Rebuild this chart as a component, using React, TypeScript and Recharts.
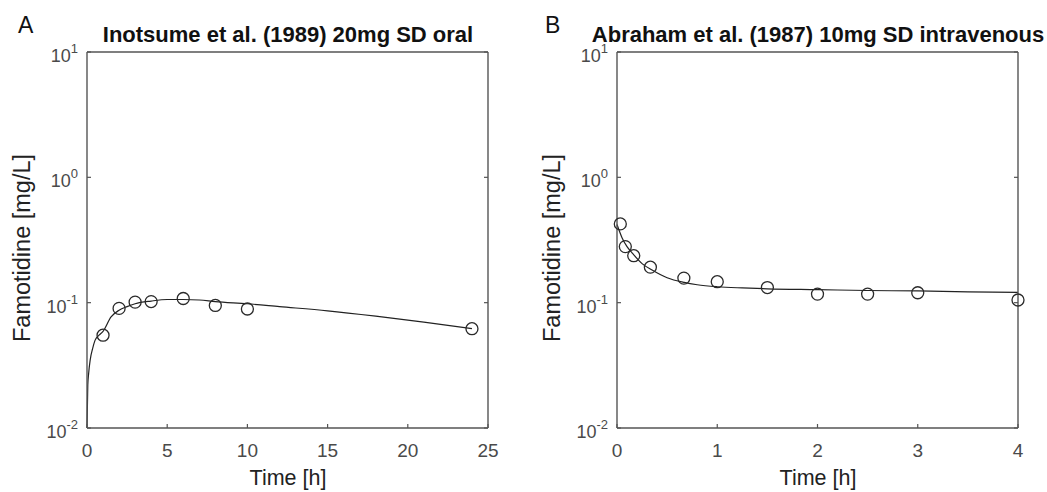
import React from "react";
import { ComposedChart, Line, Scatter, XAxis, YAxis } from "recharts";

// Inotsume et al. (1989) 20mg SD oral
const ORAL_OBS_T = [1, 2, 3, 4, 6, 8, 10, 24];
const ORAL_OBS_C = [0.055, 0.09, 0.101, 0.102, 0.108, 0.095, 0.089, 0.062];
const ORAL_SIM_T = [0, 0.05, 0.1, 0.2, 0.35, 0.5, 0.75, 1, 1.5, 2, 2.5, 3, 4, 5, 6, 7, 8, 10, 12, 15, 18, 21, 24];
const ORAL_SIM_C = [0.01, 0.022, 0.027, 0.035, 0.043, 0.05, 0.055, 0.059, 0.077, 0.087, 0.093, 0.098, 0.103, 0.106, 0.106, 0.105, 0.102, 0.098, 0.093, 0.086, 0.078, 0.07, 0.062];

// Abraham et al. (1987) 10mg SD intravenous
const IV_OBS_T = [0.033, 0.083, 0.167, 0.333, 0.667, 1, 1.5, 2, 2.5, 3, 4];
const IV_OBS_C = [0.425, 0.28, 0.237, 0.192, 0.157, 0.147, 0.132, 0.117, 0.117, 0.12, 0.105];
const IV_SIM_T = [0, 0.05, 0.1, 0.15, 0.25, 0.35, 0.5, 0.67, 0.8, 1, 1.25, 1.5, 2, 2.5, 3, 3.5, 4];
const IV_SIM_C = [0.42, 0.33, 0.28, 0.25, 0.205, 0.182, 0.158, 0.145, 0.139, 0.134, 0.131, 0.129, 0.127, 0.125, 0.124, 0.122, 0.121];

const Y_TICKS = [0.01, 0.1, 1, 10];
const Y_EXP = ["-2", "-1", "0", "1"];
const ORAL_X_TICKS = [0, 5, 10, 15, 20, 25];
const IV_X_TICKS = [0, 1, 2, 3, 4];

const zip = (t: number[], c: number[]) => t.map((v, i) => ({ t: v, c: c[i] }));

const AXIS = "#555";
const TICK_TXT = "#4a4a4a";
const FONT = "'Liberation Sans', Arial, Helvetica, sans-serif";

function BottomTick({ x, y, payload }: any) {
  return (
    <g>
      <line x1={x} x2={x} y1={y} y2={y - 4} stroke={AXIS} strokeWidth={1.2} />
      <text x={x} y={y + 29} textAnchor="middle" fontSize={19} fill={TICK_TXT} fontFamily={FONT}>
        {payload.value}
      </text>
    </g>
  );
}

function TopTick({ x, y }: any) {
  return <line x1={x} x2={x} y1={y} y2={y + 4} stroke={AXIS} strokeWidth={1.2} />;
}

function LeftTick({ x, y, payload }: any) {
  const exp = Y_EXP[Y_TICKS.indexOf(payload.value)] ?? "";
  return (
    <g>
      <line x1={x} x2={x + 4} y1={y} y2={y} stroke={AXIS} strokeWidth={1.2} />
      <text x={x - 9} y={y + 10} textAnchor="end" fontSize={18} fill={TICK_TXT} fontFamily={FONT}>
        <tspan>10</tspan>
        <tspan dy={-9} fontSize={13}>{exp}</tspan>
      </text>
    </g>
  );
}

function RightTick({ x, y }: any) {
  return <line x1={x} x2={x - 4} y1={y} y2={y} stroke={AXIS} strokeWidth={1.2} />;
}

function Circle({ cx, cy }: any) {
  return <circle cx={cx} cy={cy} r={6} fill="none" stroke="#2a2a2a" strokeWidth={1.3} />;
}

function Panel({
  left,
  width,
  letter,
  title,
  xMax,
  xTicks,
  obs,
  sim,
}: {
  left: number;
  width: number;
  letter: string;
  title: string;
  xMax: number;
  xTicks: number[];
  obs: { t: number; c: number }[];
  sim: { t: number; c: number }[];
}) {
  // axes take 1px each; plot area = 401 x 376 starting at (87, 52)
  const m = { top: 51, left: 86, right: width - 87 - 401 - 1, bottom: 63 };
  const plotCx = m.left + 1 + 201;
  return (
    <div style={{ position: "absolute", left, top: 0, width, height: 492 }}>
      <div style={{ position: "absolute", left: letter === "A" ? 18 : 15, top: 12, fontSize: 23, fontFamily: FONT, color: "#111" }}>
        {letter}
      </div>
      <div
        style={{
          position: "absolute",
          left: plotCx - 260,
          width: 520,
          top: 22,
          textAlign: "center",
          fontSize: 22,
          fontWeight: "bold",
          fontFamily: FONT,
          color: "#111",
          whiteSpace: "nowrap",
        }}
      >
        {title}
      </div>
      <div
        style={{
          position: "absolute",
          left: 22 - 120,
          top: 248 - 14,
          width: 240,
          textAlign: "center",
          fontSize: 23.5,
          lineHeight: "28px",
          fontFamily: FONT,
          color: "#222",
          transform: "rotate(-90deg)",
          whiteSpace: "nowrap",
        }}
      >
        Famotidine [mg/L]
      </div>
      <div
        style={{
          position: "absolute",
          left: plotCx - 100,
          width: 200,
          top: 466,
          textAlign: "center",
          fontSize: 21.5,
          fontFamily: FONT,
          color: "#222",
        }}
      >
        Time [h]
      </div>
      <ComposedChart width={width} height={492} margin={m} style={{ position: "absolute", left: 0, top: 0 }}>
        <XAxis
          dataKey="t"
          type="number"
          domain={[0, xMax]}
          ticks={xTicks}
          interval={0}
          height={1}
          tickSize={0}
          tickMargin={0}
          tickLine={false}
          axisLine={{ stroke: AXIS, strokeWidth: 1.4 }}
          tick={<BottomTick />}
        />
        <XAxis
          xAxisId="top"
          orientation="top"
          type="number"
          domain={[0, xMax]}
          ticks={xTicks}
          interval={0}
          height={1}
          tickSize={0}
          tickMargin={0}
          tickLine={false}
          axisLine={{ stroke: AXIS, strokeWidth: 1.4 }}
          tick={<TopTick />}
        />
        <YAxis
          dataKey="c"
          scale="log"
          domain={[0.01, 10]}
          ticks={Y_TICKS}
          interval={0}
          allowDataOverflow
          width={1}
          tickSize={0}
          tickMargin={0}
          tickLine={false}
          axisLine={{ stroke: AXIS, strokeWidth: 1.4 }}
          tick={<LeftTick />}
        />
        <YAxis
          yAxisId="right"
          orientation="right"
          scale="log"
          domain={[0.01, 10]}
          ticks={Y_TICKS}
          interval={0}
          allowDataOverflow
          width={1}
          tickSize={0}
          tickMargin={0}
          tickLine={false}
          axisLine={{ stroke: AXIS, strokeWidth: 1.4 }}
          tick={<RightTick />}
        />
        <Line
          data={sim}
          dataKey="c"
          type="monotone"
          stroke="#222"
          strokeWidth={1.2}
          dot={false}
          isAnimationActive={false}
        />
        <Scatter data={obs} dataKey="c" shape={<Circle />} isAnimationActive={false} />
      </ComposedChart>
    </div>
  );
}

export default function App() {
  return (
    <div style={{ position: "absolute", left: 0, top: 0, width: 1047, height: 492, background: "#fff", overflow: "hidden" }}>
      <Panel
        left={0}
        width={520}
        letter="A"
        title="Inotsume et al. (1989) 20mg SD oral"
        xMax={25}
        xTicks={ORAL_X_TICKS}
        obs={zip(ORAL_OBS_T, ORAL_OBS_C)}
        sim={zip(ORAL_SIM_T, ORAL_SIM_C)}
      />
      <Panel
        left={530}
        width={517}
        letter="B"
        title="Abraham et al. (1987) 10mg SD intravenous"
        xMax={4}
        xTicks={IV_X_TICKS}
        obs={zip(IV_OBS_T, IV_OBS_C)}
        sim={zip(IV_SIM_T, IV_SIM_C)}
      />
    </div>
  );
}
